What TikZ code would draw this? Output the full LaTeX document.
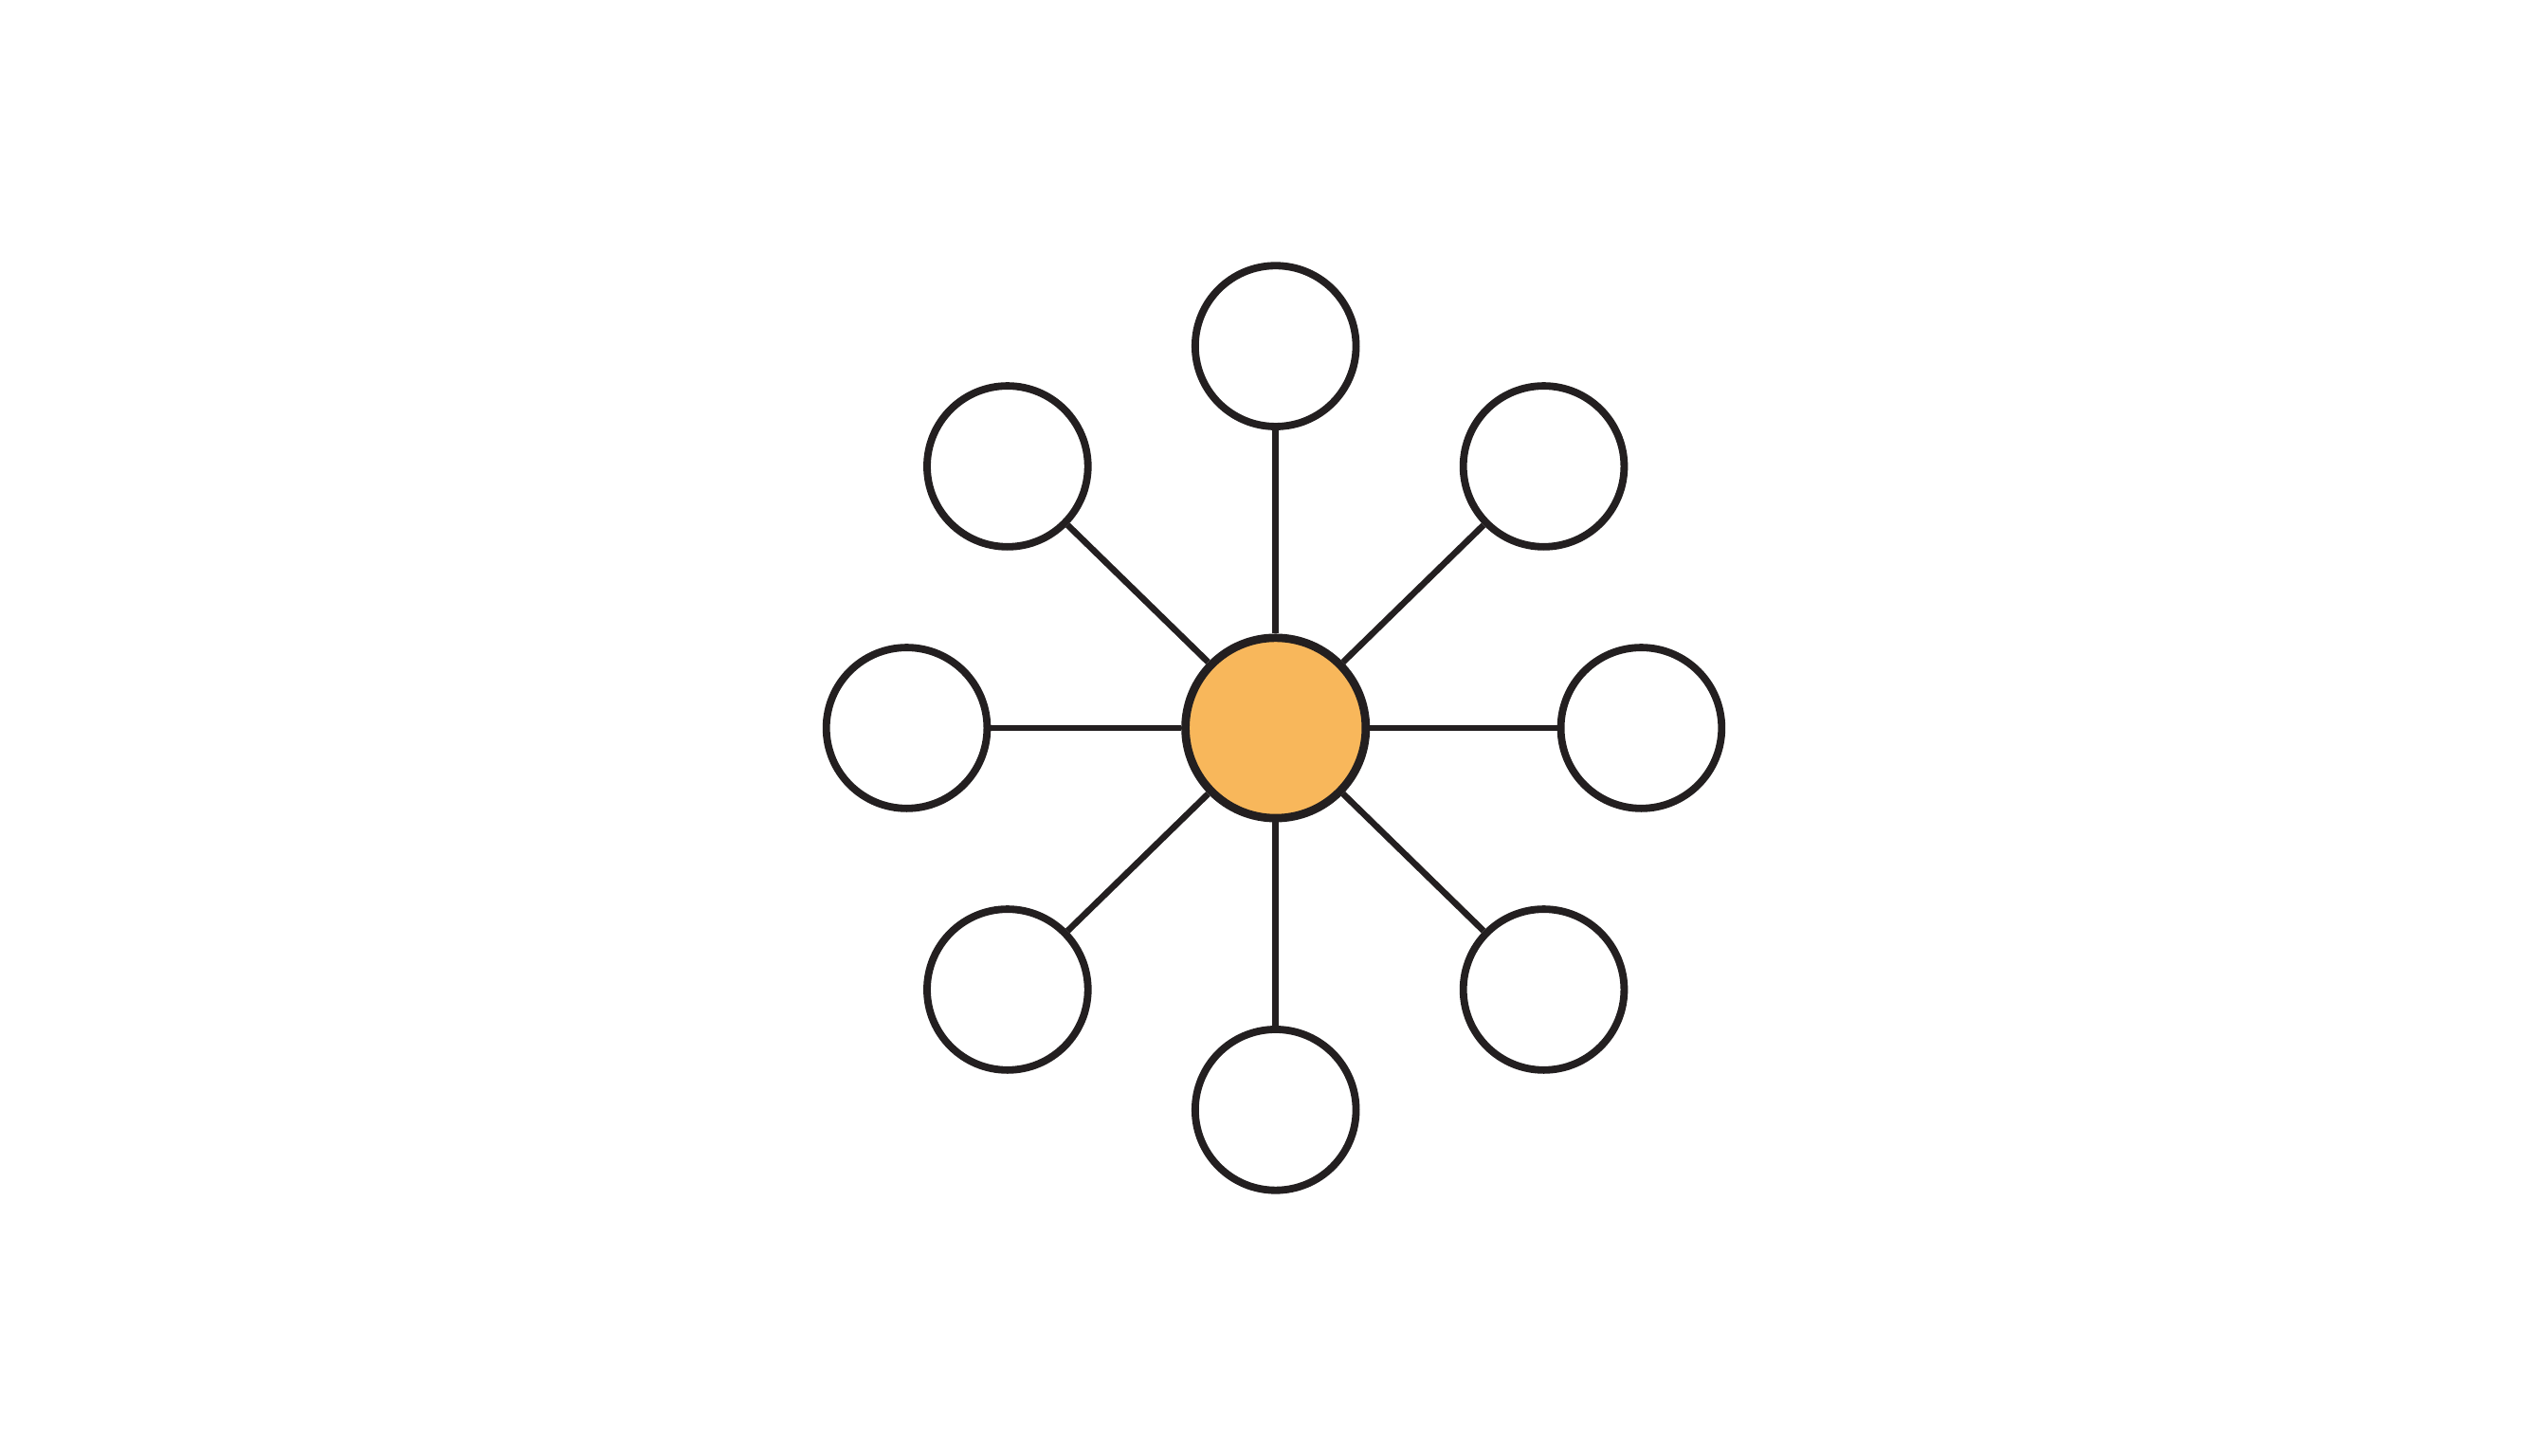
\documentclass[tikz,border=0pt]{standalone}
\usetikzlibrary{positioning}
\definecolor{hubfill}{HTML}{F8B75B}
\definecolor{ink}{HTML}{231F20}

\begin{document}
\begin{tikzpicture}[
    hub/.style = {circle, draw=ink, fill=hubfill, line width=1.45pt, minimum size=1.11cm, inner sep=0pt},
    leaf/.style = {circle, draw=ink, fill=white, line width=1.3pt, minimum size=0.99cm, inner sep=0pt},
    spoke/.style = {draw=ink, line width=1.1pt}
  ]
    \useasboundingbox (-7.85,-4.48) rectangle (7.83,4.48);

    \node[hub] (hub) at (0,0) {};
    \node[leaf] (n) at (0,2.35) {};
    \node[leaf] (s) at (0,-2.35) {};
    \node[leaf] (w) at (-2.27,0) {};
    \node[leaf] (e) at (2.25,0) {};
    \node[leaf] (nw) at (-1.65,1.61) {};
    \node[leaf] (ne) at (1.65,1.61) {};
    \node[leaf] (sw) at (-1.65,-1.61) {};
    \node[leaf] (se) at (1.65,-1.61) {};

    \draw[spoke] (hub) -- (n);
    \draw[spoke] (hub) -- (s);
    \draw[spoke] (hub) -- (w);
    \draw[spoke] (hub) -- (e);
    \draw[spoke] (hub) -- (nw);
    \draw[spoke] (hub) -- (ne);
    \draw[spoke] (hub) -- (sw);
    \draw[spoke] (hub) -- (se);
  \end{tikzpicture}
\end{document}
